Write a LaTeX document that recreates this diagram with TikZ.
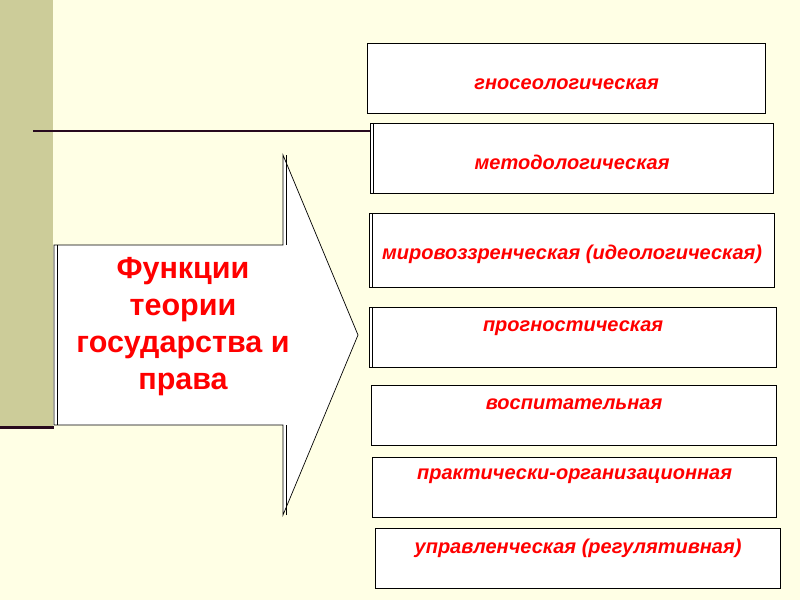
\documentclass[tikz,border=0pt]{standalone}
\usepackage{fontspec}
\setmainfont{Liberation Sans}
\usetikzlibrary{positioning}
\definecolor{slidebg}{RGB}{255,255,229}
\definecolor{barolive}{RGB}{204,204,153}
\definecolor{darkplum}{RGB}{40,10,30}
\definecolor{fred}{RGB}{255,0,0}
\tikzset{
	funcbox/.style={draw=black, line width=1.2pt, fill=white, inner sep=0pt},
	functext/.style={text=fred, font=\fontsize{20}{24}\selectfont\bfseries\itshape, inner sep=0pt, anchor=base},
	titletext/.style={text=fred, font=\fontsize{30.5}{37}\selectfont\bfseries, align=center, inner sep=0pt}
}
\begin{document}
\begin{tikzpicture}[x=1pt,y=-1pt]
		\useasboundingbox (0,0) rectangle (800,600);
		\fill[slidebg] (0,0) rectangle (800,600);
		\fill[barolive] (0,0) rectangle (53,428);
		\draw[darkplum, line width=3pt] (0,427) -- (54,427);
		
		% the seven functions
		\node[funcbox, minimum width=398, minimum height=70, anchor=north west] (gnos) at (367,43) {};
		\node[funcbox, minimum width=403, minimum height=70, anchor=north west] (metod) at (370,123) {};
		\node[funcbox, minimum width=405, minimum height=74, anchor=north west] (mirov) at (369,213) {};
		\node[funcbox, minimum width=407, minimum height=60, anchor=north west] (prog) at (369,307) {};
		\node[funcbox, minimum width=405, minimum height=60, anchor=north west] (vosp) at (371,385) {};
		\node[funcbox, minimum width=404, minimum height=60, anchor=north west] (prakt) at (372,457) {};
		\node[funcbox, minimum width=405, minimum height=60, anchor=north west] (uprav) at (375,528) {};
		\foreach \b in {metod,mirov,prog}
			\draw[line width=0.8pt] ([xshift=3pt]\b.north west) -- ([xshift=3pt]\b.south west);
		
		\coordinate (lineL) at (33,131);
		\draw[darkplum, line width=2pt] (lineL) -- (metod.north west |- lineL);
		
		\node[functext] (gnos-t) at ([yshift=-46pt]gnos.north) {гносеологическая};
		\node[functext] (metod-t) at ([yshift=-46pt]metod.north) {методологическая};
		\node[functext] (mirov-t) at ([yshift=-46pt]mirov.north) {мировоззренческая (идеологическая)};
		\node[functext] (prog-t) at ([yshift=-24pt]prog.north) {прогностическая};
		\node[functext] (vosp-t) at ([yshift=-24pt]vosp.north) {воспитательная};
		\node[functext] (prakt-t) at ([yshift=-22pt]prakt.north) {практически-организационная};
		\node[functext] (uprav-t) at ([yshift=-25pt]uprav.north) {управленческая (регулятивная)};
		
		% big arrow
		\coordinate (A1) at (54,245);
		\coordinate (A2) at (283,245);
		\coordinate (A3) at (283,155);
		\coordinate (A4) at (358,335);
		\coordinate (A5) at (283,515);
		\coordinate (A6) at (283,425);
		\coordinate (A7) at (54,425);
		\draw[fill=white, line width=0.7pt] (A1) -- (A2) -- (A3) -- (A4) -- (A5) -- (A6) -- (A7) -- cycle;
		\draw[line width=0.7pt] ([xshift=3pt]A1) -- ([xshift=3pt]A7);
		\draw[line width=0.5pt] ([xshift=3pt]A3) -- ([xshift=3pt]A2);
		\draw[line width=0.5pt] ([xshift=3pt]A5) -- ([xshift=3pt]A6);
		
		\node[titletext] (title) at (183,327) {Функции\\теории\\государства и\\права};
	\end{tikzpicture}
\end{document}
